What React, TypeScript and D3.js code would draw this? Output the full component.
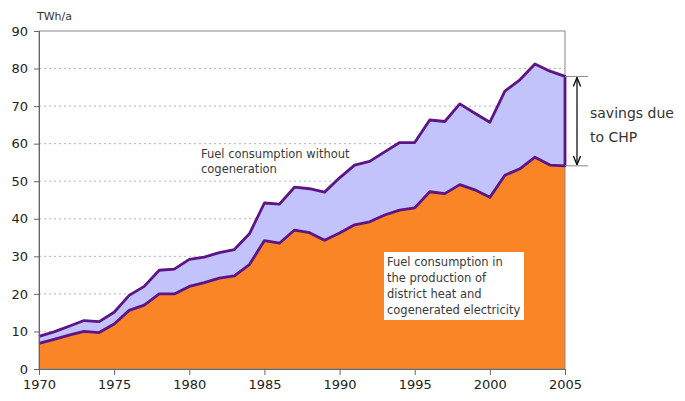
import React, { useEffect, useRef } from "react";
import * as d3 from "d3";

const years = [
  1970, 1971, 1972, 1973, 1974, 1975, 1976, 1977, 1978, 1979,
  1980, 1981, 1982, 1983, 1984, 1985, 1986, 1987, 1988, 1989,
  1990, 1991, 1992, 1993, 1994, 1995, 1996, 1997, 1998, 1999,
  2000, 2001, 2002, 2003, 2004, 2005,
];
// fuel used for district heat + cogenerated electricity (orange)
const withCHP = [
  6.8, 7.9, 9.0, 10.0, 9.7, 12.0, 15.6, 17.0, 20.0, 20.0,
  22.0, 23.0, 24.2, 24.8, 27.8, 34.2, 33.5, 37.0, 36.3, 34.3,
  36.2, 38.4, 39.2, 41.0, 42.3, 42.9, 47.2, 46.7, 49.1, 47.7,
  45.7, 51.6, 53.3, 56.4, 54.3, 54.1,
];
// fuel that would be used without cogeneration (top line)
const withoutCHP = [
  8.7, 9.9, 11.4, 12.9, 12.6, 15.1, 19.6, 22.0, 26.3, 26.6,
  29.2, 29.8, 31.0, 31.8, 36.0, 44.2, 43.9, 48.4, 48.0, 47.1,
  50.9, 54.3, 55.3, 57.8, 60.3, 60.3, 66.3, 65.9, 70.6, 68.1,
  65.7, 74.0, 77.0, 81.2, 79.3, 77.9,
];
const yTicks = [0, 10, 20, 30, 40, 50, 60, 70, 80, 90];
const xTicks = [1970, 1975, 1980, 1985, 1990, 1995, 2000, 2005];

const FONT = "'DejaVu Sans', Verdana, sans-serif";

export default function App() {
  const svgRef = useRef<SVGSVGElement>(null);

  useEffect(() => {
    const svg = d3.select(svgRef.current);
    svg.selectAll("*").remove();

    const x = d3.scaleLinear().domain([1970, 2005]).range([39, 565]);
    const y = d3.scaleLinear().domain([0, 90]).range([369, 31]);

    const rows = years.map((yr, i) => ({ yr, lo: withCHP[i], hi: withoutCHP[i] }));

    // dotted grid
    svg
      .append("g")
      .selectAll("line")
      .data(yTicks.filter((t) => t > 0 && t < 90))
      .join("line")
      .attr("x1", x(1970))
      .attr("x2", x(2005))
      .attr("y1", (d) => y(d))
      .attr("y2", (d) => y(d))
      .attr("stroke", "#b5b5b5")
      .attr("stroke-width", 1)
      .attr("stroke-dasharray", "2,3");

    // areas
    const areaTop = d3
      .area<any>()
      .x((d) => x(d.yr))
      .y0((d) => y(d.lo))
      .y1((d) => y(d.hi));
    const areaBottom = d3
      .area<any>()
      .x((d) => x(d.yr))
      .y0(y(0))
      .y1((d) => y(d.lo));

    svg.append("path").datum(rows).attr("d", areaTop).attr("fill", "#c3c3fb");
    svg.append("path").datum(rows).attr("d", areaBottom).attr("fill", "#f98526");

    // frame
    svg
      .append("rect")
      .attr("x", x(1970))
      .attr("y", y(90))
      .attr("width", x(2005) - x(1970))
      .attr("height", y(0) - y(90))
      .attr("fill", "none")
      .attr("stroke", "#8a8a8a")
      .attr("stroke-width", 1);

    // outline of the savings band
    const line = d3
      .line<any>()
      .x((d) => x(d.yr))
      .y((d) => d.v);
    const outline = [
      ...rows.map((r) => ({ yr: r.yr, v: y(r.hi) })),
      ...rows
        .slice()
        .reverse()
        .map((r) => ({ yr: r.yr, v: y(r.lo) })),
    ];
    svg
      .append("path")
      .datum(outline)
      .attr("d", line)
      .attr("fill", "none")
      .attr("stroke", "#5c1487")
      .attr("stroke-width", 2.8)
      .attr("stroke-linejoin", "round");

    // axes
    const yAxis = svg.append("g").attr("transform", `translate(${x(1970)},0)`);
    yAxis
      .call(d3.axisLeft(y).tickValues(yTicks).tickSize(5).tickPadding(6))
      .call((g) => g.select(".domain").attr("stroke", "#666"))
      .call((g) => g.selectAll(".tick line").attr("stroke", "#666"))
      .call((g) =>
        g
          .selectAll(".tick text")
          .attr("font-family", FONT)
          .attr("font-size", 13)
          .attr("fill", "#222")
      );

    const xAxis = svg.append("g").attr("transform", `translate(0,${y(0)})`);
    xAxis
      .call(
        d3
          .axisBottom(x)
          .tickValues(xTicks)
          .tickFormat(d3.format("d"))
          .tickSize(6)
          .tickPadding(5)
      )
      .call((g) => g.select(".domain").attr("stroke", "#666"))
      .call((g) => g.selectAll(".tick line").attr("stroke", "#666"))
      .call((g) =>
        g
          .selectAll(".tick text")
          .attr("font-family", FONT)
          .attr("font-size", 13)
          .attr("fill", "#222")
      );

    svg
      .append("text")
      .attr("x", 37)
      .attr("y", 20)
      .attr("font-family", FONT)
      .attr("font-size", 11)
      .attr("fill", "#333")
      .text("TWh/a");

    // labels
    const lab1 = svg
      .append("text")
      .attr("font-family", FONT)
      .attr("font-size", 11.5)
      .attr("fill", "#3a3a3a");
    lab1.append("tspan").attr("x", 201).attr("y", 158).text("Fuel consumption without");
    lab1.append("tspan").attr("x", 201).attr("y", 173).text("cogeneration");

    svg
      .append("rect")
      .attr("x", 384)
      .attr("y", 252)
      .attr("width", 140)
      .attr("height", 68)
      .attr("fill", "#fff");
    const lab2 = svg
      .append("text")
      .attr("font-family", FONT)
      .attr("font-size", 11.5)
      .attr("fill", "#3a3a3a");
    [
      "Fuel consumption in",
      "the production of",
      "district heat and",
      "cogenerated electricity",
    ].forEach((t, i) => {
      lab2.append("tspan").attr("x", 387).attr("y", 266 + i * 16).text(t);
    });

    // savings bracket at the last year
    const last = rows[rows.length - 1];
    const yHi = y(last.hi);
    const yLo = y(last.lo);
    [yHi, yLo].forEach((v) => {
      svg
        .append("line")
        .attr("x1", x(2005))
        .attr("x2", 588)
        .attr("y1", v)
        .attr("y2", v)
        .attr("stroke", "#8a8a8a")
        .attr("stroke-width", 1);
    });
    svg
      .append("defs")
      .append("marker")
      .attr("id", "arr")
      .attr("viewBox", "0 0 10 10")
      .attr("refX", 10)
      .attr("refY", 5)
      .attr("markerWidth", 7)
      .attr("markerHeight", 7)
      .attr("orient", "auto-start-reverse")
      .append("path")
      .attr("d", "M0,1 L10,5 L0,9")
      .attr("fill", "none")
      .attr("stroke", "#111")
      .attr("stroke-width", 1.5);
    svg
      .append("line")
      .attr("x1", 577)
      .attr("x2", 577)
      .attr("y1", yHi + 1)
      .attr("y2", yLo - 1)
      .attr("stroke", "#111")
      .attr("stroke-width", 1.3)
      .attr("marker-start", "url(#arr)")
      .attr("marker-end", "url(#arr)");

    const lab3 = svg
      .append("text")
      .attr("font-family", FONT)
      .attr("font-size", 14)
      .attr("fill", "#333");
    lab3.append("tspan").attr("x", 590).attr("y", 118).text("savings due");
    lab3.append("tspan").attr("x", 590).attr("y", 142).text("to CHP");
  }, []);

  return (
    <svg
      ref={svgRef}
      width={685}
      height={401}
      style={{ position: "absolute", left: 0, top: 0, background: "#fff" }}
    />
  );
}
